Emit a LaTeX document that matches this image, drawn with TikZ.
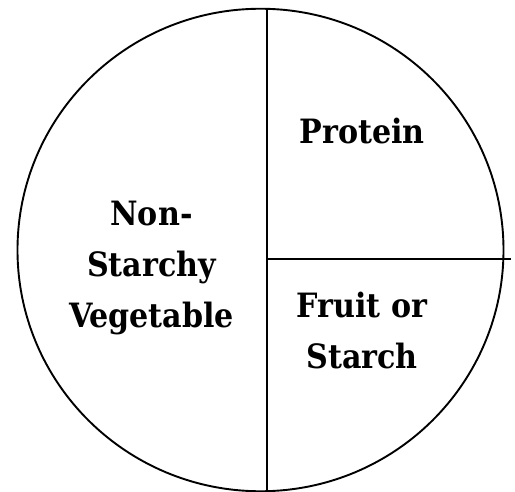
\documentclass[tikz,border=0pt]{standalone}
\usepackage{fontspec}
\usetikzlibrary{shapes.geometric}
\setmainfont{DejaVu Serif Condensed}
\begin{document}
\begin{tikzpicture}[x=1pt,y=-1pt,
  edge/.style={line width=1.9pt,black},
  lbl/.style={inner sep=0pt,align=center,font=\bfseries\fontsize{33.5}{51}\selectfont}]
\useasboundingbox (0,0) rectangle (515,492);
\node[draw,edge,ellipse,minimum width=486pt,minimum height=482.5pt,inner sep=0pt] (plate) at (260.5,250) {};
\coordinate (top) at (267,8.8);
\coordinate (bottom) at (267,492);
\coordinate (mid) at (267,259);
\coordinate (right) at (510.5,259);
\draw[edge] (top) -- (bottom);
\draw[edge] (mid) -- (right);
\node[lbl] (veg) at (151.5,268) {Non-\\Starchy\\Vegetable};
\node[lbl] (prot) at (362,131.5) {Protein};
\node[lbl] (fruit) at (362,331) {Fruit or\\Starch};
\end{tikzpicture}
\end{document}
